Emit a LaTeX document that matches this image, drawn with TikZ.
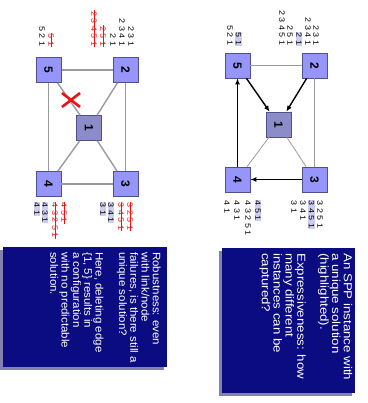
\documentclass[tikz,border=0pt]{standalone}
\usepackage{fontspec}
\setmainfont{Liberation Sans}
\usepackage{graphicx}
\usetikzlibrary{arrows.meta}
\definecolor{nodefill}{RGB}{150,150,250}
\definecolor{nodeline}{RGB}{80,80,140}
\definecolor{onefill}{RGB}{140,140,200}
\definecolor{boxfill}{RGB}{12,12,130}
\definecolor{shadowc}{RGB}{130,130,175}
\definecolor{edgec}{RGB}{155,155,155}
\definecolor{hlc}{RGB}{205,205,240}
\definecolor{cutc}{RGB}{235,20,20}
\newcommand{\sq}[1]{\scalebox{1}[0.85]{#1}}
\newcommand{\sqf}[2]{\scalebox{1}[#1]{#2}}
\begin{document}
\begin{tikzpicture}[x=1pt,y=-1pt,
  vtx/.style={draw=nodeline, fill=nodefill, minimum size=25pt, inner sep=0pt, line width=0.6pt, font=\bfseries\fontsize{12}{12}\selectfont, rotate=-90},
  dest/.style={vtx, fill=onefill},
  lnk/.style={draw=edgec, line width=0.8pt},
  lnkb/.style={draw=edgec, line width=1.4pt},
  sel/.style={draw=black, line width=1.4pt, -{Latex[length=6pt,width=5pt]}},
  plist/.style={rotate=-90, inner sep=0.6pt, font=\fontsize{9}{9}\selectfont},
  hl/.style={fill=hlc},
  gone/.style={text=cutc},
  strike/.style={draw=cutc, line width=1pt},
  boxtxt/.style={rotate=-90, inner sep=0pt, text=white, align=left, anchor=north west},
  panel/.style={fill=boxfill},
  shade/.style={fill=shadowc}
]
\useasboundingbox (0,0) rectangle (367,403);
\fill[white] (0,0) rectangle (367,403);

% ================= right panel (unique solution) =================
\node[vtx]  (r5) at (237.5,65.5) {5};
\node[vtx]  (r2) at (314.5,65.5) {2};
\node[dest] (r1) at (278.5,124.5) {1};
\node[vtx]  (r4) at (237.5,179.5) {4};
\node[vtx]  (r3) at (314.5,179.5) {3};
\draw[lnk] (r5) -- (r2);
\draw[lnk] (r2) -- (r3);
\draw[lnk] (r1) -- (r4);
\draw[lnk] (r1) -- (r3);
\draw[sel] (r2) -- (r1);
\draw[sel] (r5) -- (r1);
\draw[sel] (r3) -- (r4);
\draw[sel] (r4) -- (r5);

% path lists
\node[plist, anchor=east] (r2a) at (282,46) {\sq{2 3 4 5 1}};
\node[plist, anchor=east] (r2b) at (290,46) {\sq{2 5 1}};
\node[plist, anchor=east, hl] (r2c) at (299,46) {\sq{2 1}};
\node[plist, anchor=east] (r2d) at (308,46) {\sq{2 3 4 1}};
\node[plist, anchor=east] (r2e) at (316,46) {\sq{2 3 1}};
\node[plist, anchor=east] (r5a) at (230,46) {\sq{5 2 1}};
\node[plist, anchor=east, hl] (r5b) at (238.5,46) {\sq{5 1}};
\node[plist, anchor=west] (r4a) at (227,200) {\sq{4 1}};
\node[plist, anchor=west] (r4b) at (237,200) {\sq{4 3 1}};
\node[plist, anchor=west] (r4c) at (248,200) {\sq{4 3 2 5 1}};
\node[plist, anchor=west, hl] (r4d) at (258,200) {\sq{4 5 1}};
\node[plist, anchor=west] (r3a) at (294,200) {\sq{3 1}};
\node[plist, anchor=west] (r3b) at (303,200) {\sq{3 4 1}};
\node[plist, anchor=west, hl] (r3c) at (311.5,200) {\sq{3 4 5 1}};
\node[plist, anchor=west] (r3d) at (320,200) {\sq{3 2 5 1}};

% text box
\fill[shade] (219,251) rectangle (352,396);
\fill[panel] (222,248) rectangle (355,393);
\node[boxtxt, font=\fontsize{13.3}{13}\selectfont] (rt) at (352.5,253) {\sqf{0.87}{\begin{tabular}{@{}l@{}}An SPP instance with\\ a unique solution\\ (highlighted).\\[13pt] Expressiveness: how\\ many different\\ instances can be\\ captured?\end{tabular}}};

% ================= left panel (edge {1,5} deleted) =================
\draw[lnkb] (48.5,70) -- (125.5,70);
\node[vtx]  (l5) at (48.5,70) {5};
\node[vtx]  (l2) at (125.5,70) {2};
\node[dest] (l1) at (89,128) {1};
\node[vtx]  (l4) at (48.5,184) {4};
\node[vtx]  (l3) at (125.5,184) {3};
\draw[lnkb] (l2) -- (l3);
\draw[lnkb] (l3) -- (l4);
\draw[lnkb] (l4) -- (l5);
\draw[lnkb] (l1) -- (l2);
\draw[lnkb] (l1) -- (l3);
\draw[lnkb] (l1) -- (l4);
\draw[lnkb] (l1) -- (l5);
\coordinate (cut) at (71,100);
\draw[cutc, line width=2.6pt] ([shift={(-9,-7)}]cut) -- ([shift={(9,7)}]cut);
\draw[cutc, line width=2.6pt] ([shift={(-9,7)}]cut) -- ([shift={(9,-7)}]cut);

\node[plist, anchor=east, gone] (l2a) at (94,47) {\sq{2 3 4 5 1}};
\node[plist, anchor=east, gone] (l2b) at (103,47) {\sq{2 5 1}};
\node[plist, anchor=east] (l2c) at (113,47) {\sq{2 1}};
\node[plist, anchor=east] (l2d) at (122,47) {\sq{2 3 4 1}};
\node[plist, anchor=east] (l2e) at (131,47) {\sq{2 3 1}};
\draw[strike] (l2a.west) -- (l2a.east);
\draw[strike] (l2b.west) -- (l2b.east);
\node[plist, anchor=east] (l5a) at (42,47) {\sq{5 2 1}};
\node[plist, anchor=east, gone] (l5b) at (51,47) {\sq{5 1}};
\draw[strike] (l5b.west) -- (l5b.east);

\node[plist, anchor=west, hl] (l4a) at (37,202) {\sq{4 1}};
\node[plist, anchor=west, hl] (l4b) at (45,202) {\sq{4 3 1}};
\node[plist, anchor=west, gone] (l4c) at (55,202) {\sq{4 3 2 5 1}};
\node[plist, anchor=west, gone] (l4d) at (64,202) {\sq{4 5 1}};
\draw[strike] (l4c.west) -- (l4c.east);
\draw[strike] (l4d.west) -- (l4d.east);
\node[plist, anchor=west, hl] (l3a) at (103,202) {\sq{3 1}};
\node[plist, anchor=west, hl] (l3b) at (111,202) {\sq{3 4 1}};
\node[plist, anchor=west, gone] (l3c) at (121,202) {\sq{3 4 5 1}};
\node[plist, anchor=west, gone] (l3d) at (130,202) {\sq{3 2 5 1}};
\draw[strike] (l3c.west) -- (l3c.east);
\draw[strike] (l3d.west) -- (l3d.east);

% text box
\fill[shade] (0,250) rectangle (164,370);
\fill[panel] (3,247) rectangle (167,367);
\node[boxtxt, font=\fontsize{11.5}{12}\selectfont] (lt) at (161,252) {\sqf{0.94}{\begin{tabular}{@{}l@{}}Robustness: even\\ with link/node\\ failures, is there still a\\ unique solution?\\[13pt] Here, deleting edge\\ \{1, 5\} results in\\ a configuration\\ with no predictable\\ solution.\end{tabular}}};
\end{tikzpicture}
\end{document}
